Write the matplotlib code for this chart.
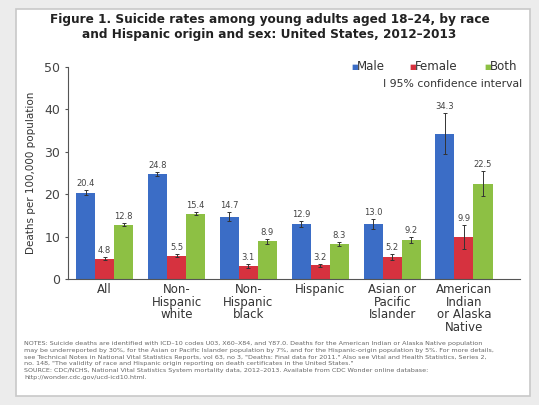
import numpy as np
import matplotlib.pyplot as plt
from matplotlib.patches import Rectangle

groups = ["All", "Non-\nHispanic\nwhite", "Non-\nHispanic\nblack", "Hispanic",
          "Asian or\nPacific\nIslander", "American\nIndian\nor Alaska\nNative"]
male = [20.4, 24.8, 14.7, 12.9, 13.0, 34.3]
female = [4.8, 5.5, 3.1, 3.2, 5.2, 9.9]
both = [12.8, 15.4, 8.9, 8.3, 9.2, 22.5]
male_ci = [0.5, 0.5, 1.0, 0.7, 1.1, 4.8]
female_ci = [0.3, 0.3, 0.5, 0.4, 0.7, 2.8]
both_ci = [0.3, 0.3, 0.6, 0.4, 0.7, 3.0]

colors = ["#3b6dc6", "#d6323f", "#8dc044"]
names = ["Male", "Female", "Both"]

fig = plt.figure(figsize=(5.39, 4.05), dpi=100)
fig.patch.set_facecolor("#ececec")
fig.patches.append(Rectangle((16/539, 1-396/405), (530-16)/539, (396-9)/405,
                             transform=fig.transFigure, facecolor="white",
                             edgecolor="#c8c8c8", lw=1.2, zorder=-5))

ax = fig.add_axes([68/539, 1-279/405, (520-68)/539, (279-67)/405])
ax.set_facecolor("white")

x = np.arange(len(groups))
w = 0.265
for i, (vals, ci) in enumerate([(male, male_ci), (female, female_ci), (both, both_ci)]):
    pos = x + (i - 1) * w
    ax.bar(pos, vals, w, color=colors[i], zorder=2)
    ax.errorbar(pos, vals, yerr=ci, fmt="none", ecolor="#333333", elinewidth=0.7,
                capsize=1.5, capthick=0.7, zorder=3)
    for p, v, c in zip(pos, vals, ci):
        ax.text(p, v + c + 0.5, f"{v:.1f}", ha="center", va="bottom",
                fontsize=6, color="#444444")

ax.set_xlim(-0.51, 5.78)
ax.set_ylim(0, 50)
ax.set_yticks([0, 10, 20, 30, 40, 50])
ax.tick_params(axis="y", labelsize=9, colors="#555555", length=2, labelcolor="#444444")
ax.tick_params(axis="x", length=0, pad=3)
ax.set_xticks(x)
ax.set_xticklabels(groups, fontsize=8.5, color="#333333", linespacing=0.95, va="top")
for s in ["top", "right"]:
    ax.spines[s].set_visible(False)
ax.spines["left"].set_color("#555555")
ax.spines["bottom"].set_color("#555555")
ax.set_ylabel("Deaths per 100,000 population", fontsize=7.5, color="#333333", labelpad=6)

fig.text(0.5, 1-27/405,
         "Figure 1. Suicide rates among young adults aged 18\u201324, by race\n"
         "and Hispanic origin and sex: United States, 2012\u20132013",
         ha="center", va="center", fontsize=8.7, fontweight="bold", color="#222222",
         linespacing=1.15)

# legend
lx = [351, 409, 484]
for xx, n, c in zip(lx, names, colors):
    fig.text(xx/539, 1-67/405, "\u25a0", color=c, fontsize=5, ha="left", va="center")
    fig.text((xx+6)/539, 1-67/405, n, color="#333333", fontsize=8.5, ha="left", va="center")
fig.text(522/539, 1-84/405, "I 95% confidence interval", color="#333333", fontsize=7.8,
         ha="right", va="center")

note = ("NOTES: Suicide deaths are identified with ICD\u201310 codes U03, X60\u2013X84, and Y87.0. "
        "Deaths for the American Indian or Alaska Native population\n"
        "may be underreported by 30%, for the Asian or Pacific Islander population by 7%, "
        "and for the Hispanic-origin population by 5%. For more details,\n"
        "see Technical Notes in National Vital Statistics Reports, vol 63, no 3, "
        "\"Deaths: Final data for 2011.\" Also see Vital and Health Statistics, Series 2,\n"
        "no. 148, \"The validity of race and Hispanic origin reporting on death certificates "
        "in the United States.\"\n"
        "SOURCE: CDC/NCHS, National Vital Statistics System mortality data, 2012\u20132013. "
        "Available from CDC Wonder online database:\n"
        "http://wonder.cdc.gov/ucd-icd10.html.")
fig.text(24/539, 1-341/405, note, fontsize=4.6, color="#666666", ha="left", va="top",
         linespacing=1.45)

plt.savefig("out.png", dpi=100, facecolor=fig.get_facecolor())
